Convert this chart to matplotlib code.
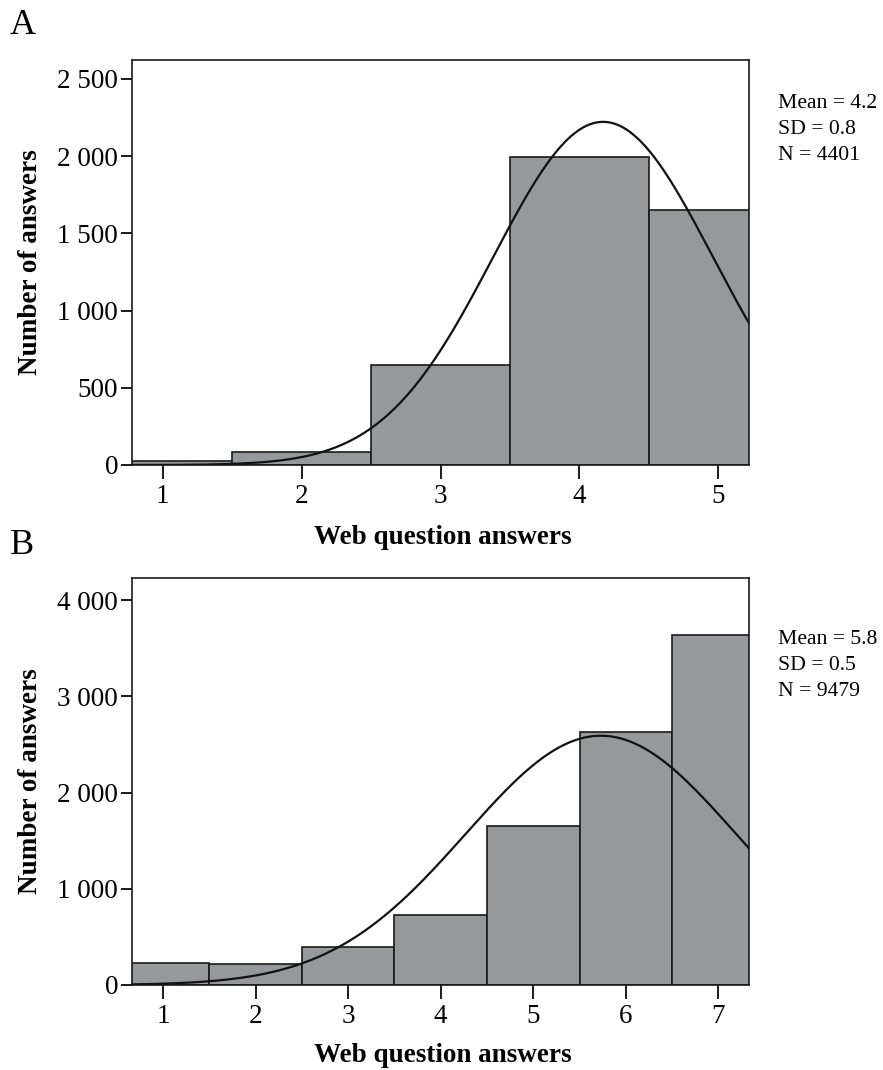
import numpy as np
import matplotlib
matplotlib.use("Agg")
import matplotlib.pyplot as plt
from matplotlib.ticker import FuncFormatter

plt.rcParams['font.family'] = ['Liberation Serif', 'DejaVu Serif']

# Panel A data
cats_a = [1, 2, 3, 4, 5]
counts_a = [25, 85, 645, 1995, 1651]
stats_a = ["Mean = 4.2", "SD = 0.8", "N = 4401"]
fit_a = (4.17, 0.79, 4401)   # mean, sd, n of drawn normal curve

# Panel B data
cats_b = [1, 2, 3, 4, 5, 6, 7]
counts_b = [230, 220, 395, 725, 1650, 2625, 3634]
stats_b = ["Mean = 5.8", "SD = 0.5", "N = 9479"]
fit_b = (5.73, 1.46, 9479)

bar_color = "#97989c"

fig = plt.figure(figsize=(8.83, 10.70), dpi=100)

def fmt(v, pos):
    v = int(round(v))
    return f"{v:,}".replace(",", " ")

def panel(rect, cats, counts, fit, stats, xlim, ylim, yticks, letter, letter_y, stats_y, xlabel_y):
    ax = fig.add_axes(rect)
    ax.bar(cats, counts, width=1.0, color=bar_color, edgecolor="#1a1a1a", linewidth=1.2, zorder=2)
    m, s, n = fit
    xs = np.linspace(xlim[0], xlim[1], 400)
    ys = n / (s * np.sqrt(2 * np.pi)) * np.exp(-0.5 * ((xs - m) / s) ** 2)
    ax.plot(xs, ys, color="#111111", linewidth=1.6, zorder=3)
    ax.set_xlim(*xlim)
    ax.set_ylim(*ylim)
    ax.set_xticks(cats)
    ax.set_yticks(yticks)
    ax.yaxis.set_major_formatter(FuncFormatter(fmt))
    for sp in ax.spines.values():
        sp.set_linewidth(1.2)
        sp.set_color("#1a1a1a")
    ax.tick_params(axis='x', length=10, width=1.4, labelsize=19.5, pad=4, color="#1a1a1a")
    ax.tick_params(axis='y', length=8, width=1.4, labelsize=19.5, pad=2, color="#1a1a1a")
    ax.set_ylabel("Number of answers", fontsize=19.5, fontweight='bold')
    ax.yaxis.set_label_coords(-0.145, 0.5)
    fig.text(443 / 883, 1 - xlabel_y / 1070, "Web question answers", fontsize=19.5,
             fontweight='bold', ha='center', va='center')
    fig.text(10 / 883, 1 - letter_y / 1070, letter, fontsize=26, ha='left', va='center')
    for i, t in enumerate(stats):
        fig.text(778 / 883, 1 - (stats_y + i * 26) / 1070, t, fontsize=15.6, ha='left', va='center')
    return ax

panel([132 / 883, 1 - 465 / 1070, 617 / 883, 405 / 1070], cats_a, counts_a, fit_a, stats_a,
      (0.78, 5.22), (0, 2623), [0, 500, 1000, 1500, 2000, 2500], "A", 25, 103, 537)
panel([132 / 883, 1 - 985 / 1070, 617 / 883, 407 / 1070], cats_b, counts_b, fit_b, stats_b,
      (0.665, 7.33), (0, 4229), [0, 1000, 2000, 3000, 4000], "B", 545, 640, 1055)

fig.savefig("out.png", dpi=100)
